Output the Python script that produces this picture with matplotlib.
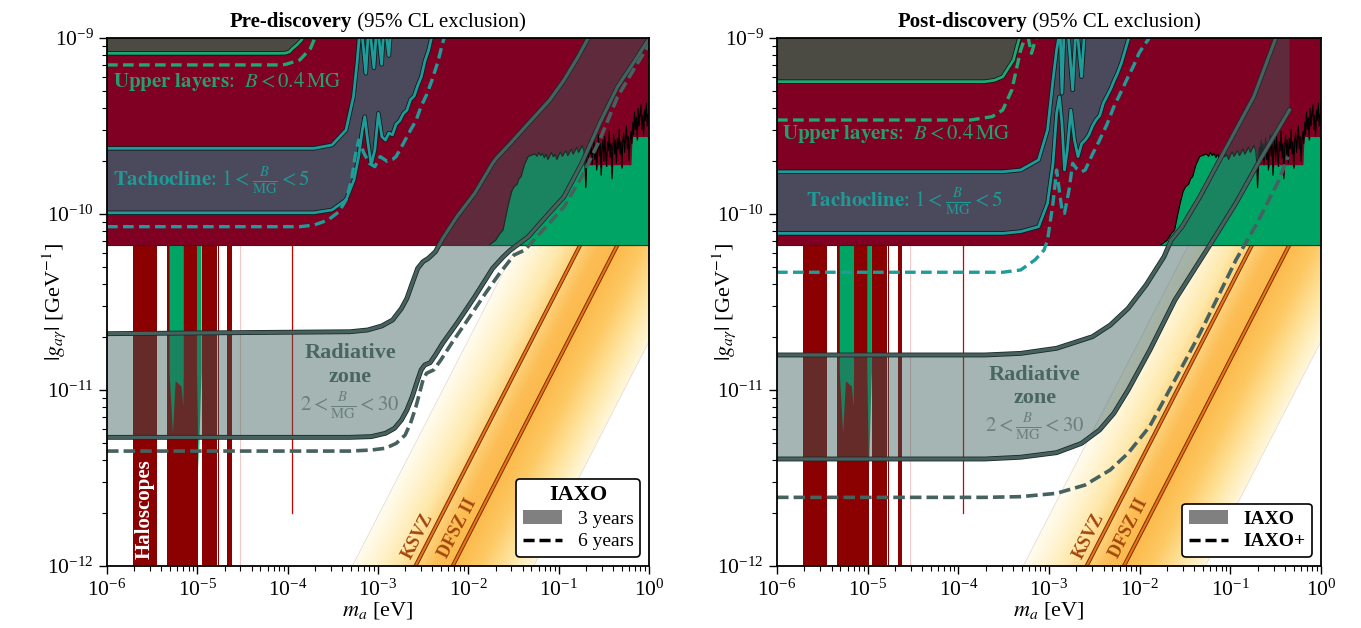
import numpy as np
import matplotlib
matplotlib.use('Agg')
import matplotlib.pyplot as plt
import matplotlib.patheffects as pe
from matplotlib.colors import LinearSegmentedColormap
from matplotlib.lines import Line2D
from matplotlib.patches import Patch
from matplotlib.ticker import NullFormatter, LogLocator, FixedLocator, LogFormatterSciNotation

plt.rcParams['font.family'] = 'serif'
plt.rcParams['font.serif'] = ['Liberation Serif', 'DejaVu Serif']
plt.rcParams['mathtext.fontset'] = 'stix'

# ---------------- data (log10 values) ----------------
titles_bold = ['Pre-discovery', 'Post-discovery']
titles_rest = [' (95% CL exclusion)', ' (95% CL exclusion)']
x_ticks = [1e-6, 1e-5, 1e-4, 1e-3, 1e-2, 1e-1, 1e0]
y_ticks = [1e-12, 1e-11, 1e-10, 1e-9]
cast_logg = -10.176

# haloscope bars (log10 m)
halo_lm_lo = [-5.712, -5.336, -4.950, -4.772, -4.670]
halo_lm_hi = [-5.446, -4.990, -4.782, -4.760, -4.616]
halo_line_lm = -3.952
halo_line_lg_bottom = -11.70
halo_pale_lm = -4.528
spike1_lm = [-5.308, -5.308, -5.27, -5.24, -5.175, -5.155, -5.15, -5.15]
spike1_lg = [cast_logg, -10.90, -11.246, -10.95, -10.98, -11.095, -10.90, cast_logg]
spike2_lm = [-5.004, -5.004, -4.985, -4.960, -4.953, -4.953]
spike2_lg = [cast_logg, -10.90, -11.455, -11.00, -10.90, cast_logg]

# QCD band, in log10(g/m)
qcd_u_left = -8.716
qcd_u_right = -10.724
ksvz_u = -9.415
dfsz_u = -9.827

# green region (upper right) top boundary / black noisy line
black_lm = [-1.771, -1.70, -1.65, -1.616, -1.58, -1.55, -1.52, -1.494, -1.46, -1.44, -1.417, -1.38, -1.339, -1.30, -1.262,
            -1.24, -1.22, -1.20, -1.18, -1.16, -1.14, -1.12, -1.10, -1.08, -1.06, -1.04, -1.02, -1.00, -0.98, -0.96, -0.94,
            -0.92, -0.90, -0.88, -0.86, -0.84, -0.82, -0.80, -0.78, -0.76, -0.74, -0.72, -0.71,
            -0.70, -0.69, -0.68, -0.67, -0.66, -0.65, -0.64, -0.63, -0.62, -0.61, -0.60, -0.59, -0.58, -0.57, -0.56, -0.55,
            -0.54, -0.53, -0.52, -0.51, -0.50, -0.49, -0.48, -0.47, -0.46, -0.45, -0.44, -0.43, -0.42, -0.41, -0.40, -0.39,
            -0.38, -0.37, -0.36, -0.35, -0.34, -0.33, -0.32, -0.31, -0.30, -0.29, -0.28, -0.27, -0.26, -0.25, -0.24, -0.23,
            -0.22, -0.21, -0.20, -0.19, -0.18, -0.17, -0.16, -0.15, -0.14, -0.13, -0.12, -0.11, -0.10, -0.09, -0.08, -0.07,
            -0.06, -0.05, -0.04, -0.03, -0.02, -0.01, 0.00]
black_lg = [-10.176, -10.150, -10.110, -10.091, -10.00, -9.93, -9.87, -9.845, -9.83, -9.80, -9.788, -9.72, -9.674, -9.665, -9.659,
            -9.672, -9.650, -9.668, -9.655, -9.680, -9.660, -9.690, -9.670, -9.650, -9.675, -9.660, -9.690, -9.665, -9.648, -9.672, -9.655,
            -9.640, -9.668, -9.650, -9.630, -9.660, -9.640, -9.620, -9.650, -9.630, -9.610, -9.640, -9.70,
            -9.85, -9.70, -9.62, -9.68, -9.58, -9.66, -9.60, -9.72, -9.63, -9.57, -9.69, -9.61, -9.75, -9.64, -9.55, -9.67,
            -9.60, -9.78, -9.62, -9.58, -9.70, -9.56, -9.65, -9.73, -9.59, -9.64, -9.53, -9.68, -9.60, -9.80, -9.62, -9.55,
            -9.66, -9.58, -9.71, -9.57, -9.63, -9.52, -9.66, -9.59, -9.74, -9.58, -9.54, -9.65, -9.57, -9.50, -9.63, -9.56,
            -9.70, -9.58, -9.53, -9.60, -9.48, -9.55, -9.42, -9.52, -9.45, -9.58, -9.40, -9.50, -9.43, -9.38, -9.52, -9.44,
            -9.56, -9.41, -9.47, -9.37, -9.50, -9.43, -9.46]
green_cap_lm = [-2.0, -0.705, -0.70, -0.195, -0.19, 0.01]
green_cap_lg = [-9.0, -9.0, -9.72, -9.72, -9.56, -9.56]

# ---- Pre-discovery (IAXO 3 yr / 6 yr) ----
rad_pre_up_lm = [-6.0, -3.312, -3.115, -2.957, -2.838, -2.740, -2.680, -2.621, -2.561, -2.502, -2.443, -2.364, -2.285,
                 -2.126, -1.929, -1.731, -1.691, -1.533, -1.335, -1.098, -0.941, -0.784, -0.684, -0.60]
rad_pre_up_lg = [-10.680, -10.669, -10.659, -10.636, -10.602, -10.536, -10.479, -10.394, -10.309, -10.271, -10.252, -10.214, -10.140,
                 -10.015, -9.882, -9.712, -9.684, -9.598, -9.485, -9.352, -9.239, -9.106, -9.011, -8.94]
rad_pre_lo_lm = [-6.0, -3.312, -3.075, -2.917, -2.818, -2.740, -2.680, -2.621, -2.561, -2.522, -2.483, -2.423, -2.364, -2.285,
                 -2.126, -1.929, -1.731, -1.613, -1.534, -1.336, -1.139, -0.941, -0.744, -0.546, -0.348, -0.151, -0.033, 0.05]
rad_pre_lo_lg = [-11.269, -11.269, -11.265, -11.246, -11.218, -11.170, -11.114, -11.038, -10.943, -10.886, -10.858, -10.845, -10.801, -10.735,
                 -10.621, -10.470, -10.309, -10.243, -10.205, -10.129, -10.015, -9.902, -9.712, -9.485, -9.277, -9.125, -9.030, -8.97]
rad_pre_da_lm = [-6.0, -3.312, -3.075, -2.917, -2.798, -2.700, -2.640, -2.580, -2.541, -2.502, -2.463, -2.384, -2.305, -2.186,
                 -2.008, -1.811, -1.653, -1.494, -1.376, -1.139, -0.941, -0.744, -0.546, -0.348, -0.151, -0.013, 0.05]
rad_pre_da_lg = [-11.347, -11.347, -11.341, -11.331, -11.303, -11.256, -11.189, -11.095, -11.019, -10.943, -10.905, -10.886, -10.830, -10.735,
                 -10.602, -10.451, -10.337, -10.233, -10.205, -10.072, -9.959, -9.788, -9.580, -9.334, -9.163, -9.049, -9.0]

tach_pre_up_lm = [-6.0, -3.708, -3.509, -3.354, -3.272, -3.232, -3.210, -3.19, -3.135, -3.10, -3.045, -3.01, -2.96, -2.93, -2.88, -2.85]
tach_pre_up_lg = [-9.627, -9.627, -9.608, -9.523, -9.334, -9.142, -9.011, -8.90, -9.201, -8.90, -9.170, -8.90, -9.150, -8.90, -9.100, -8.90]
tach_pre_lo_lm = [-6.0, -3.708, -3.509, -3.354, -3.266, -3.214, -3.174, -3.146, -3.115, -3.075, -3.035, -2.996, -2.957, -2.917,
                  -2.88, -2.84, -2.80, -2.76, -2.72, -2.68, -2.64, -2.60, -2.56, -2.52, -2.48, -2.44, -2.40]
tach_pre_lo_lg = [-9.993, -9.993, -9.977, -9.920, -9.807, -9.674, -9.523, -9.447, -9.580, -9.722, -9.636, -9.428, -9.561, -9.580,
                  -9.54, -9.55, -9.49, -9.47, -9.43, -9.41, -9.35, -9.33, -9.27, -9.22, -9.13, -9.07, -8.98]
tach_pre_da_lm = [-6.0, -3.866, -3.708, -3.553, -3.432, -3.354, -3.293, -3.254, -3.214, -3.155, -3.095, -3.035, -2.976, -2.90,
                  -2.84, -2.80, -2.72, -2.640, -2.58, -2.524, -2.46, -2.402, -2.34, -2.285, -2.25]
tach_pre_da_lg = [-10.072, -10.072, -10.063, -10.034, -9.987, -9.920, -9.807, -9.674, -9.580, -9.655, -9.712, -9.731, -9.674, -9.70,
                  -9.69, -9.674, -9.60, -9.523, -9.47, -9.390, -9.32, -9.239, -9.14, -9.03, -8.97]
upper_pre_lm = [-6.0, -4.10, -4.024, -3.98, -3.945, -3.90, -3.846, -3.81]
upper_pre_lg = [-9.087, -9.087, -9.086, -9.078, -9.059, -9.040, -9.011, -8.97]
upper_pre_da_lm = [-6.0, -4.10, -4.024, -3.866, -3.747, -3.708, -3.69]
upper_pre_da_lg = [-9.153, -9.153, -9.150, -9.125, -9.059, -9.011, -8.98]

# ---- Post-discovery (IAXO / IAXO+) ----
rad_post_up_lm = [-6.0, -3.707, -3.312, -2.916, -2.521, -2.324, -2.127, -1.929, -1.732, -1.652, -1.533, -1.336, -1.138, -0.940,
                  -0.742, -0.506, -0.45, -0.348]
rad_post_up_lg = [-10.801, -10.801, -10.792, -10.763, -10.697, -10.631, -10.536, -10.403, -10.243, -10.148, -10.072, -9.902, -9.712, -9.523,
                  -9.334, -9.011, -8.95, -8.85]
rad_post_lo_lm = [-6.0, -3.707, -3.312, -2.916, -2.641, -2.442, -2.284, -2.127, -1.887, -1.611, -1.225, -0.938, -0.673, -0.348]
rad_post_lo_lg = [-11.392, -11.392, -11.382, -11.356, -11.303, -11.227, -11.132, -11.000, -10.773, -10.489, -10.176, -9.938, -9.693, -9.409]
rad_post_da_lm = [-6.0, -3.706, -3.312, -2.916, -2.603, -2.327, -2.129, -1.891, -1.732, -1.533, -1.335, -1.136, -0.938, -0.706, -0.463, -0.364]
rad_post_da_lg = [-11.610, -11.610, -11.606, -11.587, -11.540, -11.455, -11.360, -11.208, -11.057, -10.868, -10.678, -10.470, -10.261, -10.053, -9.807, -9.674]

tach_post_up_lm = [-6.0, -3.510, -3.312, -3.115, -3.016, -2.956, -2.916, -2.897, -2.88, -2.857, -2.83, -2.80, -2.739, -2.70, -2.641, -2.60]
tach_post_up_lg = [-9.760, -9.760, -9.750, -9.693, -9.523, -9.239, -9.068, -9.011, -8.90, -9.314, -8.90, -8.90, -9.295, -8.90, -9.220, -8.90]
tach_post_lo_lm = [-6.0, -3.510, -3.312, -3.115, -3.016, -2.956, -2.916, -2.885, -2.857, -2.829, -2.798, -2.759, -2.719, -2.680,
                   -2.64, -2.601, -2.56, -2.52, -2.482, -2.44, -2.40, -2.364, -2.32, -2.28, -2.245, -2.20, -2.16, -2.127, -2.10]
tach_post_lo_lg = [-10.110, -10.110, -10.100, -10.072, -9.939, -9.712, -9.428, -9.334, -9.485, -9.750, -9.636, -9.409, -9.580, -9.674,
                   -9.60, -9.580, -9.55, -9.50, -9.466, -9.44, -9.37, -9.334, -9.29, -9.24, -9.201, -9.14, -9.07, -9.011, -8.97]
tach_post_da_lm = [-6.0, -3.510, -3.312, -3.155, -3.055, -3.016, -2.956, -2.916, -2.857, -2.829, -2.779, -2.739, -2.70, -2.640,
                   -2.601, -2.52, -2.442, -2.36, -2.284, -2.20, -2.127, -2.06, -2.008, -1.95, -1.908, -1.88]
tach_post_da_lg = [-10.331, -10.331, -10.318, -10.261, -10.205, -10.148, -9.939, -9.750, -9.977, -9.996, -9.864, -9.712, -9.74, -9.76,
                   -9.750, -9.66, -9.580, -9.49, -9.390, -9.30, -9.220, -9.15, -9.087, -9.04, -9.011, -8.97]
upper_post_lm = [-6.0, -3.707, -3.60, -3.510, -3.392, -3.332, -3.30]
upper_post_lg = [-9.248, -9.248, -9.240, -9.220, -9.125, -9.011, -8.95]
upper_post_da_lm = [-6.0, -3.866, -3.629, -3.510, -3.410, -3.353, -3.312, -3.273, -3.25, -3.193, -3.133, -3.11]
upper_post_da_lg = [-9.466, -9.466, -9.447, -9.409, -9.295, -9.163, -9.068, -9.011, -8.95, -9.087, -8.98, -8.93]

# ---------------- colours ----------------
C_CAST = '#7f0022'
C_HALO = '#8b0000'
C_GREEN = '#00a566'
C_OLIVE = '#4b4b43'
C_TACH = '#4a4a5c'
C_TEAL = '#1f9c9a'
C_GLINE = '#1ea874'
C_SLATE = '#46615e'
C_BAND = '#3a5e5b'

qcd_cmap = LinearSegmentedColormap.from_list('qcd', [
    (0.00, '#fff7dc'), (0.15, '#fee39c'), (0.30, '#fdc862'), (0.447, '#fbb94b'),
    (0.55, '#fcbd55'), (0.652, '#fdd27c'), (0.76, '#fee8ab'), (0.88, '#fff3cf'), (1.0, '#fffbee')])


def P(a):
    return 10 ** np.asarray(a, dtype=float)


def stroke(lw, col='#101a1a'):
    return [pe.Stroke(linewidth=lw, foreground=col), pe.Normal()]


def panel(ax, post):
    ax.set_xscale('log')
    ax.set_yscale('log')
    ax.set_xlim(1e-6, 1)
    ax.set_ylim(1e-12, 1e-9)
    top = 1.3e-9

    # QCD band
    LMg, LGg = np.meshgrid(np.linspace(-6, 0, 700), np.linspace(-12, -9, 450))
    T = ((LGg - LMg) - qcd_u_right) / (qcd_u_left - qcd_u_right)
    T = np.ma.masked_outside(T, 0, 1)
    ax.pcolormesh(P(LMg), P(LGg), T, cmap=qcd_cmap, vmin=0, vmax=1, shading='auto', zorder=1, rasterized=True)
    mm = np.array([1e-6, 1.0])
    for u in (qcd_u_left, qcd_u_right):
        ax.plot(mm, 10 ** u * mm, color='#e6ddd3', lw=0.6, zorder=1.5)
    for u in (ksvz_u, dfsz_u):
        ax.plot(mm, 10 ** u * mm, color='#e8741a', lw=1.5, zorder=2, path_effects=stroke(2.9, '#7a2e00'))

    # haloscopes
    for lo, hi in zip(halo_lm_lo, halo_lm_hi):
        ax.fill_between([10 ** lo, 10 ** hi], 1e-12, 10 ** cast_logg, color=C_HALO, lw=0, zorder=2.5)
    ax.plot([10 ** halo_line_lm] * 2, [10 ** halo_line_lg_bottom, 10 ** cast_logg], color='#d00000', lw=0.9, zorder=2.6)
    ax.plot([10 ** halo_pale_lm] * 2, [1e-12, 10 ** cast_logg], color='#f2c8c8', lw=0.8, zorder=2.6)
    ax.fill(P(spike1_lm), P(spike1_lg), color=C_GREEN, lw=0, zorder=2.6)
    ax.fill(P(spike2_lm), P(spike2_lg), color=C_GREEN, lw=0, zorder=2.6)

    # CAST / upper limits
    ax.fill_between([1e-6, 1], 10 ** cast_logg, top, color=C_CAST, lw=0, zorder=3)
    ax.axhline(10 ** cast_logg, color='#222222', lw=0.8, zorder=3.05)
    blm = np.asarray(black_lm)
    cap = np.interp(blm, green_cap_lm, green_cap_lg)
    ax.fill_between(P(blm), 10 ** cast_logg, P(np.minimum(black_lg, cap)), color=C_GREEN, lw=0, zorder=3.2)
    ax.plot(P(black_lm), P(black_lg), color='k', lw=0.8, zorder=3.3)
    ax.axhline(10 ** cast_logg, xmin=0.70, color='#1a3a2a', lw=0.8, zorder=3.3)

    if not post:
        up, upd = (upper_pre_lm, upper_pre_lg), (upper_pre_da_lm, upper_pre_da_lg)
        tu, tl, td = (tach_pre_up_lm, tach_pre_up_lg), (tach_pre_lo_lm, tach_pre_lo_lg), (tach_pre_da_lm, tach_pre_da_lg)
        ru, rl, rd = (rad_pre_up_lm, rad_pre_up_lg), (rad_pre_lo_lm, rad_pre_lo_lg), (rad_pre_da_lm, rad_pre_da_lg)
        t_env_end = 7  # index where the upper tachocline line leaves the frame
    else:
        up, upd = (upper_post_lm, upper_post_lg), (upper_post_da_lm, upper_post_da_lg)
        tu, tl, td = (tach_post_up_lm, tach_post_up_lg), (tach_post_lo_lm, tach_post_lo_lg), (tach_post_da_lm, tach_post_da_lg)
        ru, rl, rd = (rad_post_up_lm, rad_post_up_lg), (rad_post_lo_lm, rad_post_lo_lg), (rad_post_da_lm, rad_post_da_lg)
        t_env_end = 8

    # upper layers band
    xs = list(P(up[0])) + [10 ** up[0][-1], 1e-6]
    ys = list(P(up[1])) + [top, top]
    ax.fill(xs, ys, color=C_OLIVE, lw=0, zorder=3.5)
    # tachocline band
    ux, uy = list(tu[0][:t_env_end]), list(tu[1][:t_env_end])
    xs = list(P(ux)) + [10 ** ux[-1], 10 ** tl[0][-1]] + list(P(tl[0][::-1]))
    ys = list(P(uy)) + [top, top] + list(P(tl[1][::-1]))
    ax.fill(xs, ys, color=C_TACH, lw=0, zorder=3.5)

    # radiative zone band (translucent)
    if post:
        xs = list(P(ru[0])) + list(P(rl[0][::-1]))
        ys = list(P(ru[1])) + list(P(rl[1][::-1]))
    else:
        xs = list(P(ru[0])) + [10 ** ru[0][-1]] + list(P(rl[0][::-1]))
        ys = list(P(ru[1])) + [top] + list(P(rl[1][::-1]))
    ax.fill(xs, ys, color=C_BAND, alpha=0.46, lw=0, zorder=4)

    # lines
    ax.plot(P(up[0]), P(up[1]), color=C_GLINE, lw=2.0, zorder=5, path_effects=stroke(3.2))
    ax.plot(P(upd[0]), P(upd[1]), color=C_GLINE, lw=2.4, ls=(0, (3.2, 1.6)), zorder=5)
    ax.plot(P(tu[0]), P(tu[1]), color=C_TEAL, lw=2.0, zorder=5, path_effects=stroke(3.2))
    ax.plot(P(tl[0]), P(tl[1]), color=C_TEAL, lw=2.0, zorder=5, path_effects=stroke(3.2))
    ax.plot(P(td[0]), P(td[1]), color=C_TEAL, lw=2.4, ls=(0, (3.2, 1.6)), zorder=5)
    ax.plot(P(ru[0]), P(ru[1]), color=C_SLATE, lw=2.3, zorder=5, path_effects=stroke(3.5, '#1c2a29'))
    ax.plot(P(rl[0]), P(rl[1]), color=C_SLATE, lw=2.3, zorder=5, path_effects=stroke(3.5, '#1c2a29'))
    ax.plot(P(rd[0]), P(rd[1]), color=C_SLATE, lw=2.6, ls=(0, (3.2, 1.4)), zorder=5)

    # labels
    fs_lab = 15
    if not post:
        ax.text(10 ** -5.934, 10 ** -9.248, r'$\mathbf{Upper\ layers}$:  $B < 0.4\,\mathrm{MG}$', color='#22a06c',
                fontsize=fs_lab, ha='left', va='center', zorder=6)
        ax.text(10 ** -5.934, 10 ** -9.816, r'$\mathbf{Tachocline}$: $1 < \frac{B}{\mathrm{MG}} < 5$', color='#1f9a96',
                fontsize=fs_lab, ha='left', va='center', zorder=6)
        rx, ry = -3.310, (-10.790, -10.924, -11.095)
        ax.text(10 ** -5.579, 10 ** -11.676, 'Haloscopes', color='white', fontsize=15, fontweight='bold',
                rotation=90, ha='center', va='center', zorder=6)
    else:
        ax.text(10 ** -5.945, 10 ** -9.545, r'$\mathbf{Upper\ layers}$:  $B < 0.4\,\mathrm{MG}$', color='#22a06c',
                fontsize=fs_lab, ha='left', va='center', zorder=6)
        ax.text(10 ** -5.683, 10 ** -9.936, r'$\mathbf{Tachocline}$: $1 < \frac{B}{\mathrm{MG}} < 5$', color='#1f9a96',
                fontsize=fs_lab, ha='left', va='center', zorder=6)
        rx, ry = -3.157, (-10.915, -11.047, -11.214)
    ax.text(10 ** rx, 10 ** ry[0], 'Radiative', color='#4a6663', fontsize=16, fontweight='bold', ha='center', va='center', zorder=6)
    ax.text(10 ** rx, 10 ** ry[1], 'zone', color='#4a6663', fontsize=16, fontweight='bold', ha='center', va='center', zorder=6)
    ax.text(10 ** rx, 10 ** ry[2], r'$2 < \frac{B}{\mathrm{MG}} < 30$', color='#6b7f7d', fontsize=15, ha='center', va='center', zorder=6)

    # KSVZ / DFSZ labels
    p1 = ax.transData.transform((1e-3, 10 ** ksvz_u * 1e-3))
    p2 = ax.transData.transform((1e-2, 10 ** ksvz_u * 1e-2))
    ang = np.degrees(np.arctan2(p2[1] - p1[1], p2[0] - p1[0]))
    ax.text(10 ** -2.561, 10 ** -11.833, 'KSVZ', rotation=ang, color='#a2470c', fontsize=13, fontweight='bold',
            ha='center', va='center', rotation_mode='anchor', zorder=6)
    ax.text(10 ** -2.118, 10 ** -11.786, 'DFSZ II', rotation=ang, color='#a2470c', fontsize=13, fontweight='bold',
            ha='center', va='center', rotation_mode='anchor', zorder=6)

    # legend
    h = [Patch(facecolor='#808080', edgecolor='none'), Line2D([], [], color='k', ls=(0, (3.2, 1.4)), lw=2.5)]
    if not post:
        leg = ax.legend(h, ['3 years', '6 years'], title='IAXO', loc='lower right', fontsize=14, title_fontsize=16,
                        fancybox=True, framealpha=1, edgecolor='k', borderaxespad=0.45, handlelength=2.0,
                        labelspacing=0.25, borderpad=0.35)
        leg.get_title().set_fontweight('bold')
    else:
        leg = ax.legend(h, ['IAXO', 'IAXO+'], loc='lower right', prop={'weight': 'bold', 'size': 14},
                        fancybox=True, framealpha=1, edgecolor='k', borderaxespad=0.45, handlelength=2.0,
                        labelspacing=0.25, borderpad=0.35)
    leg.set_zorder(7)
    leg.get_frame().set_linewidth(1.2)

    # axes cosmetics
    ax.xaxis.set_major_locator(FixedLocator(x_ticks))
    ax.yaxis.set_major_locator(FixedLocator(y_ticks))
    ax.xaxis.set_major_formatter(LogFormatterSciNotation())
    ax.yaxis.set_major_formatter(LogFormatterSciNotation())
    ax.xaxis.set_minor_locator(LogLocator(base=10, subs=np.arange(2, 10), numticks=20))
    ax.yaxis.set_minor_locator(LogLocator(base=10, subs=np.arange(2, 10), numticks=20))
    ax.xaxis.set_minor_formatter(NullFormatter())
    ax.yaxis.set_minor_formatter(NullFormatter())
    ax.tick_params(which='both', direction='out', top=False, right=False, labelsize=15.5)
    ax.tick_params(which='major', length=6, width=1.0)
    ax.tick_params(which='minor', length=3.5, width=0.8)
    for s in ax.spines.values():
        s.set_linewidth(1.3)
        s.set_zorder(8)
    ax.set_xlabel(r'$m_a$ [eV]', fontsize=16, labelpad=0)
    ax.set_ylabel(r'$|g_{a\gamma}|$ [GeV$^{-1}$]', fontsize=16)
    ax.yaxis.set_label_coords(-0.072, 0.5)


def add_title(fig, ax, k):
    r = fig.canvas.get_renderer()
    t1 = ax.text(0.0, 1.02, titles_bold[k], transform=ax.transAxes, fontsize=15, fontweight='bold',
                 ha='left', va='baseline')
    t2 = ax.text(0.0, 1.02, titles_rest[k], transform=ax.transAxes, fontsize=15, ha='left', va='baseline')
    w1 = t1.get_window_extent(r).width
    w2 = t2.get_window_extent(r).width
    aw = ax.get_window_extent(r).width
    x0 = 0.5 - (w1 + w2) / 2.0 / aw
    t1.set_x(x0)
    t2.set_x(x0 + w1 / aw)


fig = plt.figure(figsize=(13.61, 6.28), dpi=100)
ax1 = fig.add_axes([107 / 1361, 62 / 628, 542 / 1361, 528 / 628])
ax2 = fig.add_axes([777 / 1361, 62 / 628, 544 / 1361, 528 / 628])
panel(ax1, False)
panel(ax2, True)
fig.canvas.draw()
add_title(fig, ax1, 0)
add_title(fig, ax2, 1)
fig.savefig('out.png', dpi=100, facecolor='white')
